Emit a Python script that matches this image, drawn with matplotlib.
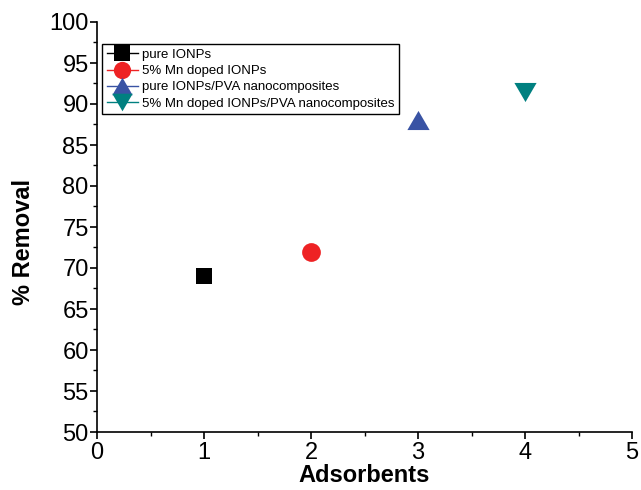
import matplotlib
matplotlib.use("Agg")
import matplotlib.pyplot as plt
from matplotlib.ticker import MultipleLocator

plt.rcParams['font.family'] = ['Liberation Sans', 'DejaVu Sans']

labels = ["pure IONPs", "5% Mn doped IONPs", "pure IONPs/PVA nanocomposites",
          "5% Mn doped IONPs/PVA nanocomposites"]
x_vals = [1, 2, 3, 4]
removal = [69, 72, 88, 91.5]
colors = ["#000000", "#ee2224", "#3953a4", "#008080"]

tri_up = [(-1, -0.86), (1, -0.86), (0, 0.86)]
tri_down = [(-1, 0.86), (1, 0.86), (0, -0.86)]
markers = ["s", "o", tri_up, tri_down]
msizes = [12, 13.5, 16, 16]

fig = plt.figure(figsize=(6.41, 4.90), dpi=100)
ax = fig.add_axes([97/641, 1 - 432/490, (632-97)/641, (432-22)/490])

for xv, yv, c, m, ms, lab in zip(x_vals, removal, colors, markers, msizes, labels):
    ax.plot([xv], [yv], linestyle='-', color=c, marker=m, markersize=ms,
            markeredgewidth=0, label=lab, lw=1)

ax.set_xlim(0, 5)
ax.set_ylim(50, 100)
ax.xaxis.set_major_locator(MultipleLocator(1))
ax.xaxis.set_minor_locator(MultipleLocator(0.5))
ax.yaxis.set_major_locator(MultipleLocator(5))
ax.yaxis.set_minor_locator(MultipleLocator(2.5))
ax.spines['top'].set_visible(False)
ax.spines['right'].set_visible(False)
for s in ('left', 'bottom'):
    ax.spines[s].set_linewidth(1.2)
ax.tick_params(which='major', direction='out', length=5, width=1.2, labelsize=17)
ax.tick_params(which='minor', direction='out', length=3, width=1)
ax.tick_params(axis='x', pad=2)
ax.tick_params(axis='y', pad=1)

ax.set_xlabel("Adsorbents", fontsize=17, fontweight='bold', labelpad=0)
ax.set_ylabel("% Removal", fontsize=17, fontweight='bold')
ax.yaxis.set_label_coords(-0.115, 0.463)

leg = ax.legend(loc='upper left', bbox_to_anchor=(0.0093, 0.946), fontsize=9.5,
                frameon=True, fancybox=False, edgecolor='black', framealpha=1,
                handlelength=2.4, handletextpad=0.3, borderpad=0.35,
                labelspacing=0.3, borderaxespad=0, markerscale=0.92)
leg.get_frame().set_linewidth(1.0)

fig.savefig("out.png", dpi=100)
